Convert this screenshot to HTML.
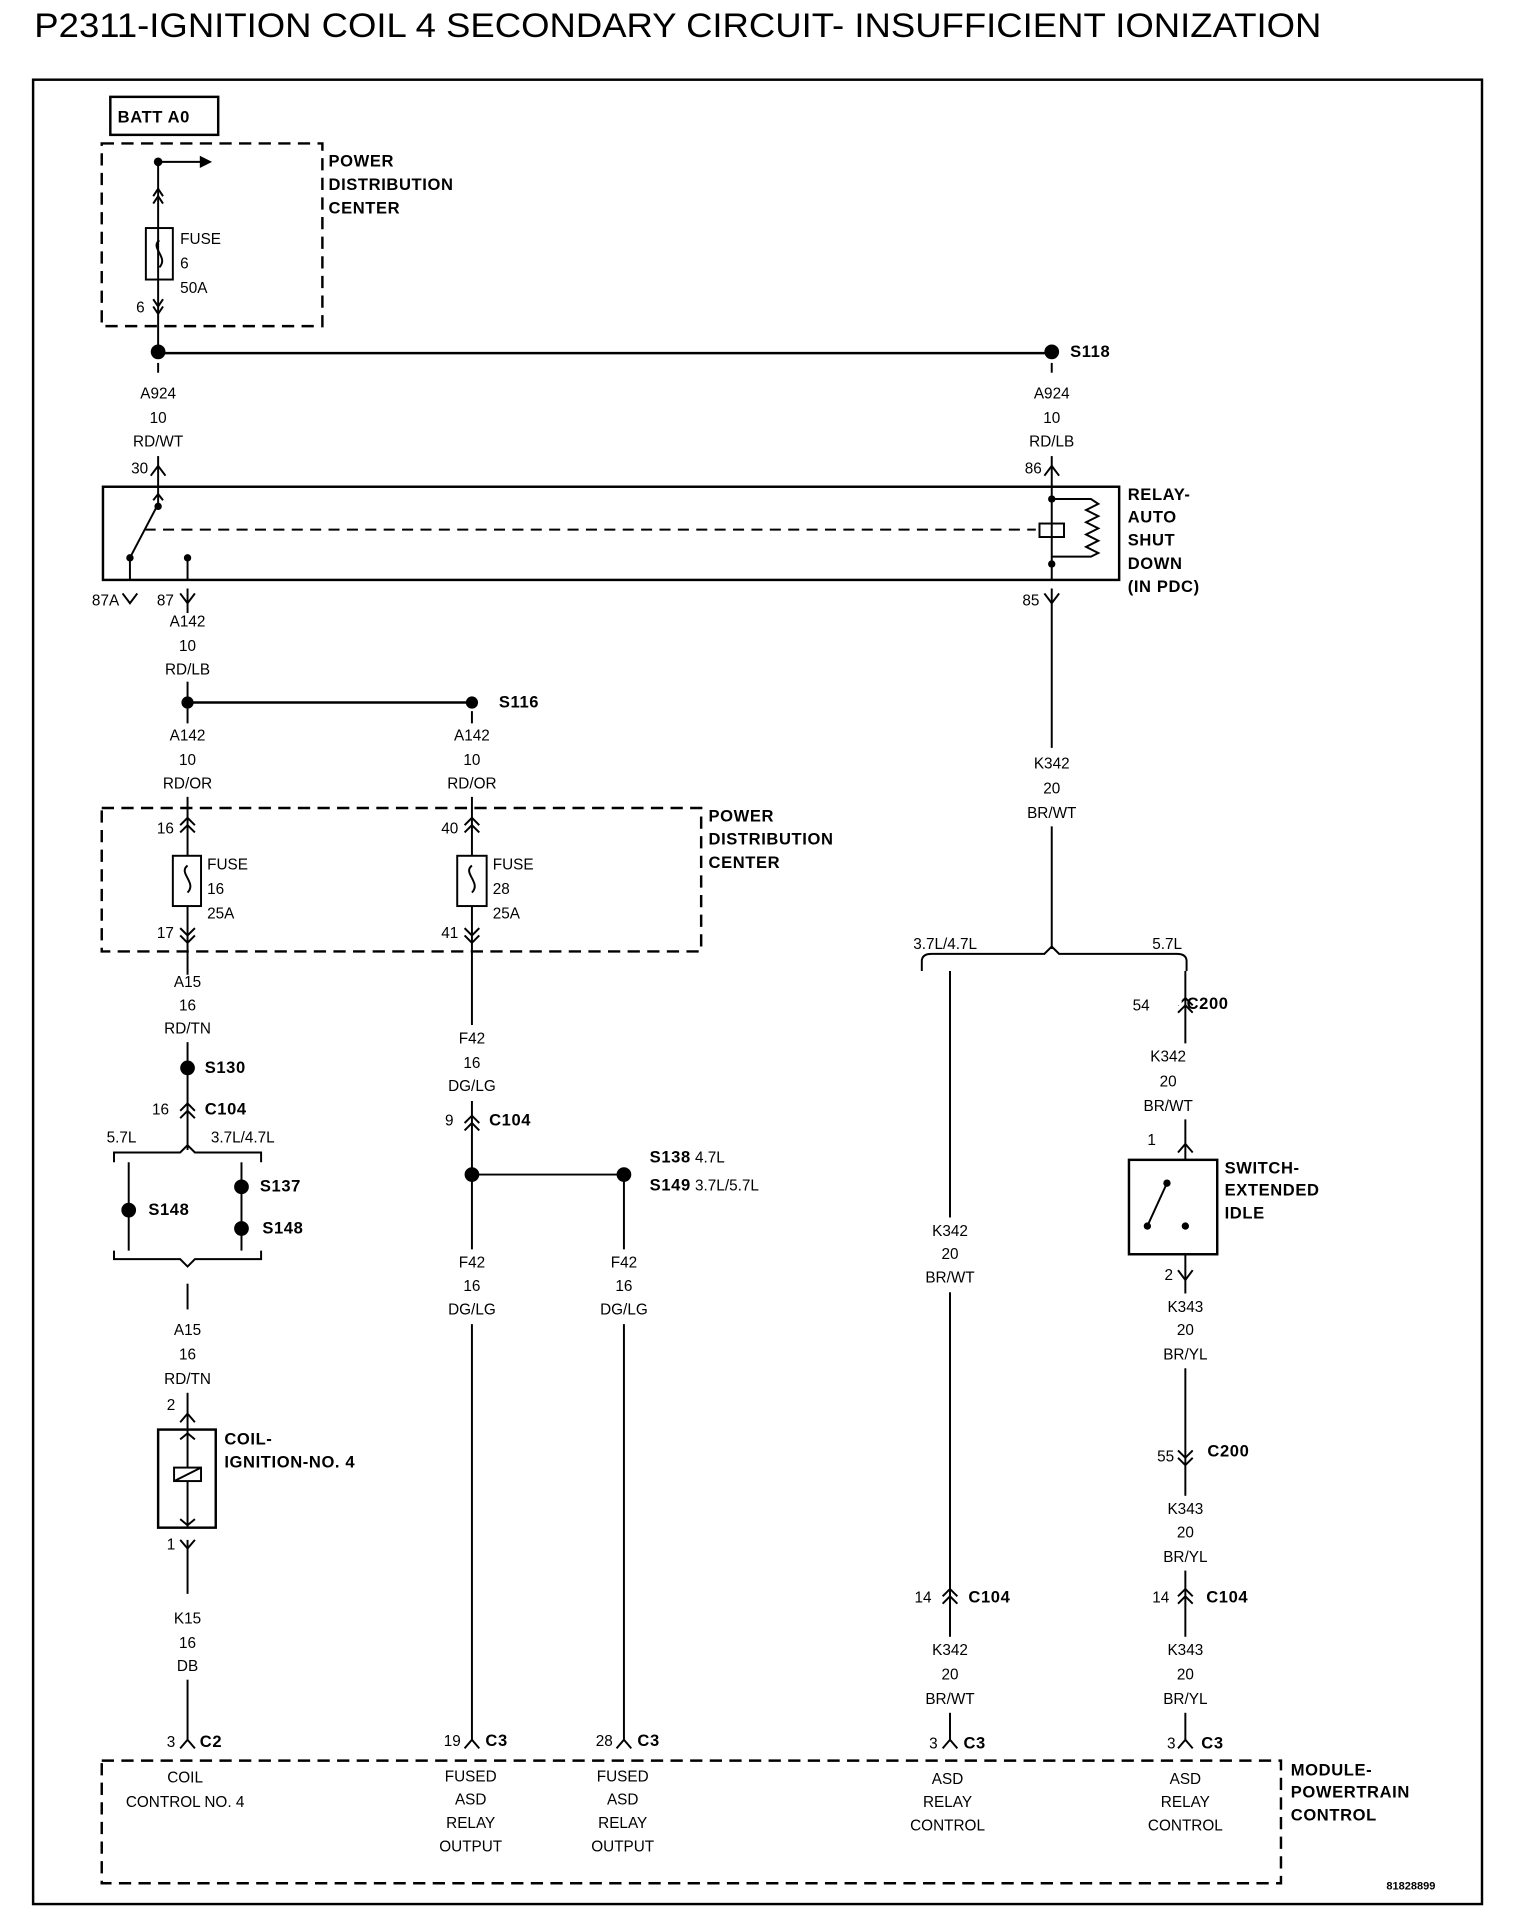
<!DOCTYPE html>
<html><head><meta charset="utf-8"><style>
html,body{margin:0;padding:0;background:#fff;}
svg{display:block;}
text{font-family:"Liberation Sans",sans-serif;font-size:12.5px;fill:#000;}
.b{font-weight:bold;font-size:13.5px;letter-spacing:0.5px;}
.c{text-anchor:middle;}
</style></head><body>
<svg width="1520" height="1920" viewBox="0 0 1240 1566" preserveAspectRatio="none" xmlns="http://www.w3.org/2000/svg">
<g fill="none" stroke="#000" stroke-width="1.6">
<rect x="27" y="65" width="1182" height="1488" stroke-width="2"/>
<rect x="90" y="79" width="88" height="31" stroke-width="2"/>
<rect x="83" y="117" width="180" height="149" stroke-dasharray="10,6" stroke-width="2"/>
<line x1="129" y1="132" x2="129" y2="287"/>
<line x1="129" y1="132" x2="165" y2="132"/>
<rect x="119" y="186" width="22" height="42"/>
<path d="M125 160 l4 -6 l4 6 M125 166 l4 -6 l4 6 M125 244 l4 6 l4 -6 M125 250 l4 6 l4 -6"/>
<path d="M130 196 c-8 6 8 14 0 22"/>
<line x1="129" y1="288" x2="858" y2="288" stroke-width="2"/>
<path d="M123 388 l6 -8 l6 8 M852 388 l6 -8 l6 8"/>
<line x1="129" y1="296" x2="129" y2="304"/><line x1="858" y1="296" x2="858" y2="304"/>
<line x1="129" y1="372" x2="129" y2="397"/><line x1="858" y1="372" x2="858" y2="397"/>
<rect x="84" y="397" width="829" height="76" stroke-width="2"/>
<line x1="129" y1="397" x2="129" y2="413"/>
<line x1="106" y1="455" x2="128" y2="413"/>
<path d="M125 408 l4 -5 l4 5"/>
<line x1="106" y1="455" x2="106" y2="473"/><line x1="153" y1="455" x2="153" y2="473"/>
<line x1="118" y1="432" x2="845" y2="432" stroke-dasharray="9,6"/>
<line x1="858" y1="397" x2="858" y2="473"/>
<rect x="848" y="427" width="20" height="11"/>
<path d="M858 407 h32 l6 4 l-10 5 l10 5 l-10 5 l10 5 l-10 5 l10 5 l-10 5 l10 5 l-6 3 h-32"/>
<path d="M100 484 l6 8 l6 -8 M147 484 l6 8 l6 -8 M852 484 l6 8 l6 -8"/>
<line x1="153" y1="480" x2="153" y2="500"/><line x1="858" y1="480" x2="858" y2="500"/>
<line x1="153" y1="556" x2="153" y2="590"/><line x1="153" y1="573" x2="385" y2="573" stroke-width="2"/>
<line x1="385" y1="580" x2="385" y2="590"/>
<rect x="83" y="659" width="489" height="117" stroke-dasharray="10,6" stroke-width="2"/>
<line x1="153" y1="650" x2="153" y2="795"/><line x1="385" y1="650" x2="385" y2="1420"/>
<rect x="141" y="698" width="23" height="41" fill="#fff"/><rect x="373" y="698" width="24" height="41" fill="#fff"/>
<path d="M153 706 c-8 6 8 14 0 22 M385 706 c-8 6 8 14 0 22"/>
<path d="M147 673 l6 -6 l6 6 M147 679 l6 -6 l6 6 M379 673 l6 -6 l6 6 M379 679 l6 -6 l6 6 M147 757 l6 6 l6 -6 M147 763 l6 6 l6 -6 M379 757 l6 6 l6 -6 M379 763 l6 6 l6 -6"/>
<line x1="153" y1="850" x2="153" y2="938"/>
<path d="M147 906 l6 -6 l6 6 M147 912 l6 -6 l6 6 M379 916 l6 -6 l6 6 M379 922 l6 -6 l6 6"/>
<path d="M93 948 v-8 h54 l6 -6 l6 6 h54 v8"/>
<line x1="105" y1="948" x2="105" y2="1020"/><line x1="197" y1="948" x2="197" y2="1020"/>
<path d="M93 1020 v7 h54 l6 6 l6 -6 h54 v-7"/>
<line x1="153" y1="1047" x2="153" y2="1068"/><line x1="153" y1="1136" x2="153" y2="1166"/>
<path d="M147 1160 l6 -7 l6 7"/>
<rect x="129" y="1166" width="47" height="80" stroke-width="2"/>
<line x1="153" y1="1166" x2="153" y2="1246"/>
<rect x="142" y="1197" width="22" height="11" fill="#fff"/><line x1="142" y1="1208" x2="164" y2="1197"/>
<path d="M147 1174 l6 -5 l6 5 M147 1239 l6 5 l6 -5 M147 1256 l6 7 l6 -7"/>
<line x1="153" y1="1256" x2="153" y2="1300"/><line x1="153" y1="1370" x2="153" y2="1420"/>
<path d="M147 1426 l6 -7 l6 7 M379 1426 l6 -7 l6 7 M503 1426 l6 -7 l6 7 M769 1426 l6 -7 l6 7 M961 1426 l6 -7 l6 7"/>
<line x1="385" y1="958" x2="509" y2="958"/>
<line x1="509" y1="958" x2="509" y2="1420"/>
<line x1="858" y1="500" x2="858" y2="774"/>
<path d="M752 792 v-8 q0 -6 8 -6 h92 l6 -6 l6 6 h96 q8 0 8 6 v8"/>
<line x1="775" y1="792" x2="775" y2="1420"/>
<line x1="967" y1="792" x2="967" y2="946"/>
<path d="M961 820 l6 -6 l6 6 M961 826 l6 -6 l6 6 M961 940 l6 -7 l6 7 M961 1036 l6 8 l6 -8"/>
<rect x="921" y="946" width="72" height="77" stroke-width="2"/>
<line x1="936" y1="1000" x2="952" y2="965"/>
<line x1="967" y1="1023" x2="967" y2="1420"/>
<path d="M961 1183 l6 6 l6 -6 M961 1189 l6 6 l6 -6 M769 1302 l6 -6 l6 6 M769 1308 l6 -6 l6 6 M961 1302 l6 -6 l6 6 M961 1308 l6 -6 l6 6"/>
<rect x="83" y="1436" width="962" height="100" stroke-dasharray="10,6" stroke-width="2"/>
</g>
<g fill="#fff">
<rect x="830" y="610" width="56" height="64"/>
<rect x="360" y="836" width="50" height="62"/>
<rect x="360" y="1019" width="50" height="61"/>
<rect x="484" y="1019" width="50" height="61"/>
<rect x="750" y="993" width="50" height="61"/>
<rect x="928" y="851" width="52" height="62"/>
<rect x="942" y="1055" width="50" height="61"/>
<rect x="942" y="1220" width="50" height="61"/>
<rect x="750" y="1335" width="50" height="62"/>
<rect x="942" y="1335" width="50" height="62"/>
<rect x="952" y="808" width="12" height="12"/>
</g>
<g fill="#000">
<circle cx="129" cy="132" r="3.5"/><path d="M163 127 l10 5 l-10 5z"/>
<circle cx="129" cy="287" r="6"/><circle cx="858" cy="287" r="6"/>
<circle cx="129" cy="413" r="3"/><circle cx="106" cy="455" r="3"/><circle cx="153" cy="455" r="3"/>
<circle cx="858" cy="407" r="3"/><circle cx="858" cy="460" r="3"/>
<circle cx="153" cy="573" r="5"/><circle cx="385" cy="573" r="5"/>
<circle cx="153" cy="871" r="6"/>
<circle cx="105" cy="987" r="6"/><circle cx="197" cy="968" r="6"/><circle cx="197" cy="1002" r="6"/>
<circle cx="385" cy="958" r="6"/><circle cx="509" cy="958" r="6"/>
<circle cx="952" cy="965" r="3"/><circle cx="936" cy="1000" r="3"/><circle cx="967" cy="1000" r="3"/>
</g>
<text x="28" y="30" style="font-size:28px" textLength="1050" lengthAdjust="spacingAndGlyphs">P2311-IGNITION COIL 4 SECONDARY CIRCUIT- INSUFFICIENT IONIZATION</text>
<text class="b" x="96" y="100">BATT A0</text>
<text class="b" x="268" y="136">POWER</text><text class="b" x="268" y="155">DISTRIBUTION</text><text class="b" x="268" y="174">CENTER</text>
<text x="147" y="199">FUSE</text><text x="147" y="219">6</text><text x="147" y="239">50A</text><text x="111" y="255">6</text>
<text class="b" x="873" y="291">S118</text>
<text class="c" x="129" y="325">A924</text><text class="c" x="129" y="345">10</text><text class="c" x="129" y="364">RD/WT</text>
<text class="c" x="858" y="325">A924</text><text class="c" x="858" y="345">10</text><text class="c" x="858" y="364">RD/LB</text>
<text x="107" y="386">30</text><text x="836" y="386">86</text>
<text class="b" x="920" y="408">RELAY-</text><text class="b" x="920" y="426">AUTO</text><text class="b" x="920" y="445">SHUT</text><text class="b" x="920" y="464">DOWN</text><text class="b" x="920" y="483">(IN PDC)</text>
<text x="75" y="494">87A</text><text x="128" y="494">87</text><text x="834" y="494">85</text>
<text class="c" x="153" y="511">A142</text><text class="c" x="153" y="531">10</text><text class="c" x="153" y="550">RD/LB</text>
<text class="b" x="407" y="577">S116</text>
<text class="c" x="153" y="604">A142</text><text class="c" x="153" y="624">10</text><text class="c" x="153" y="643">RD/OR</text>
<text class="c" x="385" y="604">A142</text><text class="c" x="385" y="624">10</text><text class="c" x="385" y="643">RD/OR</text>
<text class="b" x="578" y="670">POWER</text><text class="b" x="578" y="689">DISTRIBUTION</text><text class="b" x="578" y="708">CENTER</text>
<text x="128" y="680">16</text><text x="169" y="709">FUSE</text><text x="169" y="729">16</text><text x="169" y="749">25A</text><text x="128" y="765">17</text>
<text x="360" y="680">40</text><text x="402" y="709">FUSE</text><text x="402" y="729">28</text><text x="402" y="749">25A</text><text x="360" y="765">41</text>
<text class="c" x="153" y="805">A15</text><text class="c" x="153" y="824">16</text><text class="c" x="153" y="843">RD/TN</text>
<text class="b" x="167" y="875">S130</text>
<text x="124" y="909">16</text><text class="b" x="167" y="909">C104</text>
<text x="87" y="932">5.7L</text><text x="172" y="932">3.7L/4.7L</text>
<text class="b" x="121" y="991">S148</text><text class="b" x="212" y="972">S137</text><text class="b" x="214" y="1006">S148</text>
<text class="c" x="153" y="1089">A15</text><text class="c" x="153" y="1109">16</text><text class="c" x="153" y="1129">RD/TN</text>
<text x="136" y="1150">2</text>
<text class="b" x="183" y="1178">COIL-</text><text class="b" x="183" y="1197">IGNITION-NO. 4</text>
<text x="136" y="1264">1</text>
<text class="c" x="153" y="1324">K15</text><text class="c" x="153" y="1344">16</text><text class="c" x="153" y="1363">DB</text>
<text x="136" y="1425">3</text><text class="b" x="163" y="1425">C2</text>
<text class="c" x="385" y="851">F42</text><text class="c" x="385" y="871">16</text><text class="c" x="385" y="890">DG/LG</text>
<text x="363" y="918">9</text><text class="b" x="399" y="918">C104</text>
<text class="b" x="530" y="948">S138</text><text x="567" y="948">4.7L</text>
<text class="b" x="530" y="971">S149</text><text x="567" y="971">3.7L/5.7L</text>
<text class="c" x="385" y="1034">F42</text><text class="c" x="385" y="1053">16</text><text class="c" x="385" y="1072">DG/LG</text>
<text class="c" x="509" y="1034">F42</text><text class="c" x="509" y="1053">16</text><text class="c" x="509" y="1072">DG/LG</text>
<text x="362" y="1424">19</text><text class="b" x="396" y="1424">C3</text>
<text x="486" y="1424">28</text><text class="b" x="520" y="1424">C3</text>
<text class="c" x="858" y="627">K342</text><text class="c" x="858" y="647">20</text><text class="c" x="858" y="667">BR/WT</text>
<text x="745" y="774">3.7L/4.7L</text><text x="940" y="774">5.7L</text>
<text class="c" x="775" y="1008">K342</text><text class="c" x="775" y="1027">20</text><text class="c" x="775" y="1046">BR/WT</text>
<text x="746" y="1307">14</text><text class="b" x="790" y="1307">C104</text>
<text class="c" x="775" y="1350">K342</text><text class="c" x="775" y="1370">20</text><text class="c" x="775" y="1390">BR/WT</text>
<text x="758" y="1426">3</text><text class="b" x="786" y="1426">C3</text>
<text x="924" y="824">54</text><text class="b" x="968" y="823">C200</text>
<text class="c" x="953" y="866">K342</text><text class="c" x="953" y="886">20</text><text class="c" x="953" y="906">BR/WT</text>
<text x="936" y="934">1</text>
<text class="b" x="999" y="957">SWITCH-</text><text class="b" x="999" y="975">EXTENDED</text><text class="b" x="999" y="994">IDLE</text>
<text x="950" y="1044">2</text>
<text class="c" x="967" y="1070">K343</text><text class="c" x="967" y="1089">20</text><text class="c" x="967" y="1109">BR/YL</text>
<text x="944" y="1192">55</text><text class="b" x="985" y="1188">C200</text>
<text class="c" x="967" y="1235">K343</text><text class="c" x="967" y="1254">20</text><text class="c" x="967" y="1274">BR/YL</text>
<text x="940" y="1307">14</text><text class="b" x="984" y="1307">C104</text>
<text class="c" x="967" y="1350">K343</text><text class="c" x="967" y="1370">20</text><text class="c" x="967" y="1390">BR/YL</text>
<text x="952" y="1426">3</text><text class="b" x="980" y="1426">C3</text>
<text class="b" x="1053" y="1448">MODULE-</text><text class="b" x="1053" y="1466">POWERTRAIN</text><text class="b" x="1053" y="1485">CONTROL</text>
<text class="c" x="151" y="1454">COIL</text><text class="c" x="151" y="1474">CONTROL NO. 4</text>
<text class="c" x="384" y="1453">FUSED</text><text class="c" x="384" y="1472">ASD</text><text class="c" x="384" y="1491">RELAY</text><text class="c" x="384" y="1510">OUTPUT</text>
<text class="c" x="508" y="1453">FUSED</text><text class="c" x="508" y="1472">ASD</text><text class="c" x="508" y="1491">RELAY</text><text class="c" x="508" y="1510">OUTPUT</text>
<text class="c" x="773" y="1455">ASD</text><text class="c" x="773" y="1474">RELAY</text><text class="c" x="773" y="1493">CONTROL</text>
<text class="c" x="967" y="1455">ASD</text><text class="c" x="967" y="1474">RELAY</text><text class="c" x="967" y="1493">CONTROL</text>
<text x="1131" y="1541" style="font-size:9px;font-weight:bold">81828899</text>
</svg>
</body></html>
